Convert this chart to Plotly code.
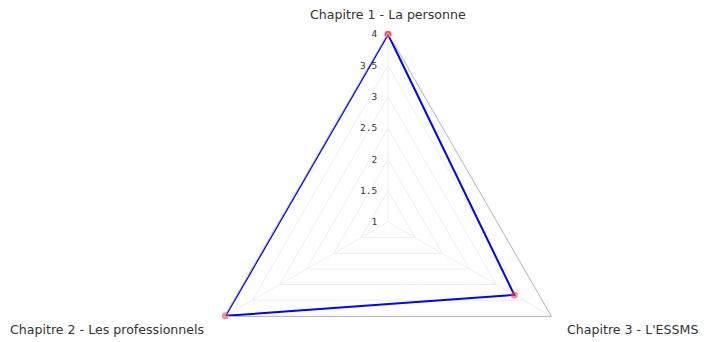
import plotly.graph_objects as go

# chapter scores
chapitres = ["Chapitre 1 - La personne", "Chapitre 2 - Les professionnels", "Chapitre 3 - L'ESSMS"]
scores = [4, 4, 3.33]
tick_vals = [1, 1.5, 2, 2.5, 3, 3.5, 4]
tick_text = ["1", "1.5", "2", "2.5", "3", "3.5", "4"]

# close the polygon
r = scores + scores[:1]
theta = chapitres + chapitres[:1]

fig = go.Figure()
fig.add_trace(
    go.Scatterpolar(
        r=r,
        theta=theta,
        mode="lines+markers",
        line=dict(color="#0000ff", width=2),
        marker=dict(color="rgba(255,60,60,0.6)", size=7),
        cliponaxis=False,
        showlegend=False,
        hoverinfo="skip",
    )
)

# category labels placed by hand around the triangle
label_pos = [
    dict(x=0.5, y=1.048, xanchor="center"),
    dict(x=0.0185, y=0.2143, xanchor="right"),
    dict(x=1.326, y=0.2143, xanchor="right"),
]
for name, pos in zip(chapitres, label_pos):
    fig.add_annotation(
        text=name,
        xref="paper",
        yref="paper",
        x=pos["x"],
        y=pos["y"],
        xanchor=pos["xanchor"],
        yanchor="middle",
        showarrow=False,
        font=dict(family="DejaVu Sans", size=12.6, color="#333"),
    )

fig.update_layout(
    width=700,
    height=403,
    margin=dict(l=191, r=131, t=25, b=0),
    paper_bgcolor="white",
    polar=dict(
        bgcolor="white",
        gridshape="linear",
        radialaxis=dict(
            # a hair past 4 so the outer edge of the line is not clipped
            range=[1, 4.02],
            tickvals=tick_vals,
            ticktext=tick_text,
            angle=90,
            tickangle=90,
            side="counterclockwise",
            showline=False,
            ticks="outside",
            ticklen=7,
            tickcolor="rgba(0,0,0,0)",
            gridcolor="#eeeeee",
            tickfont=dict(family="DejaVu Sans Mono", size=9.5, color="#333"),
        ),
        angularaxis=dict(
            direction="counterclockwise",
            rotation=90,
            showline=True,
            linecolor="#bbbbbb",
            linewidth=1,
            gridcolor="#eeeeee",
            ticks="",
            showticklabels=False,
        ),
    ),
)

# the polar circle is taller than the window, so keep the page from scrolling
fig.write_html(
    "out.html",
    post_script="document.documentElement.style.overflow='hidden';document.body.style.overflow='hidden';",
)
